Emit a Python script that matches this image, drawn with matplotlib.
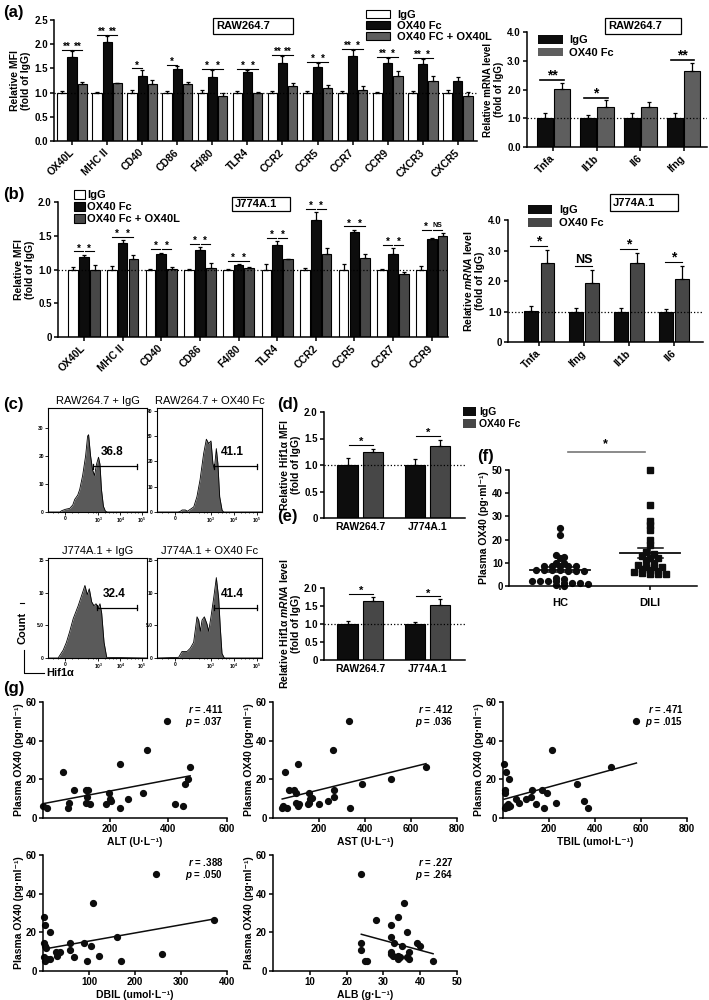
import numpy as np
import matplotlib
matplotlib.use('Agg')
import matplotlib.pyplot as plt
from matplotlib.patches import Patch, Rectangle
from matplotlib.lines import Line2D

plt.rcParams['font.family'] = ['Liberation Sans', 'DejaVu Sans']
plt.rcParams['font.weight'] = 'bold'
plt.rcParams['axes.labelweight'] = 'bold'
plt.rcParams['mathtext.fontset'] = 'custom'
plt.rcParams['mathtext.rm'] = 'Liberation Sans:bold'
plt.rcParams['mathtext.it'] = 'Liberation Sans:italic:bold'
plt.rcParams['mathtext.bf'] = 'Liberation Sans:bold'
plt.rcParams['axes.linewidth'] = 1.1

# ---------------- data ----------------
# (a) RAW264.7 surface markers (relative MFI)
a_genes = ['OX40L', 'MHC II', 'CD40', 'CD86', 'F4/80', 'TLR4', 'CCR2', 'CCR5', 'CCR7', 'CCR9', 'CXCR3', 'CXCR5']
a_igg = [1.0, 1.0, 1.0, 1.0, 1.0, 1.0, 1.0, 1.0, 1.0, 1.0, 1.0, 1.0]
a_igg_err = [0.03, 0.02, 0.05, 0.04, 0.05, 0.03, 0.04, 0.04, 0.03, 0.02, 0.03, 0.05]
a_fc = [1.73, 2.05, 1.35, 1.49, 1.32, 1.42, 1.62, 1.52, 1.76, 1.62, 1.60, 1.25]
a_fc_err = [0.12, 0.12, 0.12, 0.05, 0.14, 0.04, 0.13, 0.09, 0.12, 0.09, 0.09, 0.08]
a_fcl = [1.18, 1.19, 1.18, 1.17, 0.92, 1.0, 1.13, 1.10, 1.05, 1.35, 1.23, 0.94]
a_fcl_err = [0.03, 0.01, 0.09, 0.05, 0.07, 0.01, 0.07, 0.06, 0.08, 0.10, 0.11, 0.08]
a_sig_l = ['**', '**', '*', '*', '*', '*', '**', '*', '**', '**', '**', '']
a_sig_r = ['**', '**', '', '', '*', '*', '**', '*', '*', '*', '*', '']

# (a) RAW264.7 mRNA
a2_genes = ['Tnfa', 'Il1b', 'Il6', 'Ifng']
a2_igg = [1.02, 1.02, 1.02, 1.02]
a2_igg_err = [0.15, 0.1, 0.15, 0.15]
a2_fc = [2.02, 1.4, 1.4, 2.63]
a2_fc_err = [0.22, 0.22, 0.16, 0.3]
a2_sig = ['**', '*', '', '**']

# (b) J774A.1 surface markers
b_genes = ['OX40L', 'MHC II', 'CD40', 'CD86', 'F4/80', 'TLR4', 'CCR2', 'CCR5', 'CCR7', 'CCR9']
b_igg = [1.0, 1.0, 1.0, 1.0, 1.0, 1.0, 1.0, 1.0, 1.0, 1.0]
b_igg_err = [0.03, 0.05, 0.01, 0.01, 0.01, 0.08, 0.02, 0.08, 0.01, 0.05]
b_fc = [1.19, 1.40, 1.23, 1.29, 1.07, 1.37, 1.74, 1.56, 1.23, 1.45]
b_fc_err = [0.03, 0.03, 0.02, 0.04, 0.01, 0.05, 0.11, 0.03, 0.09, 0.01]
b_fcl = [1.0, 1.16, 1.01, 1.02, 1.02, 1.15, 1.23, 1.17, 0.93, 1.50]
b_fcl_err = [0.06, 0.05, 0.03, 0.07, 0.02, 0.01, 0.09, 0.06, 0.03, 0.04]
b_sig_l = ['*', '*', '*', '*', '*', '*', '*', '*', '*', '*']
b_sig_r = ['*', '*', '*', '*', '*', '*', '*', '*', '*', 'NS']

# (b) J774A.1 mRNA
b2_genes = ['Tnfa', 'Ifng', 'Il1b', 'Il6']
b2_igg = [1.02, 1.0, 1.0, 1.0]
b2_igg_err = [0.15, 0.1, 0.1, 0.08]
b2_fc = [2.6, 1.93, 2.58, 2.06]
b2_fc_err = [0.43, 0.43, 0.35, 0.43]
b2_sig = ['*', 'NS', '*', '*']

# (c) Hif1a flow histograms: (x in display units 0-100, count)
c_titles = ['RAW264.7 + IgG', 'RAW264.7 + OX40 Fc', 'J774A.1 + IgG', 'J774A.1 + OX40 Fc']
c1_x = [0, 12, 14, 18, 22, 25, 27, 30, 32, 35, 38, 40, 41, 43, 45, 47, 49, 51, 52.5, 54, 56, 58, 60, 100]
c1_y = [0, 0, 0.5, 1, 1.3, 2.5, 4.5, 6, 8, 13, 20, 27, 27.5, 20, 15, 13, 17, 19.5, 17, 8, 2, 0.3, 0, 0]
c2_x = [0, 20, 22, 24, 27, 29, 35, 38, 41, 44.4, 47, 49.2, 51.4, 53.3, 54.6, 56.5, 58, 59.7, 62, 63.5, 100]
c2_y = [0, 0, 0.2, 0.8, 0.8, 0.3, 2, 6, 12.7, 23, 28.7, 27, 28, 19, 17, 25, 19, 6, 0.7, 0, 0]
c3_x = [0, 10.2, 15.3, 18.6, 22, 25.4, 30.5, 34.9, 37.3, 39.7, 41.7, 44.1, 46.4, 48.5, 50.8, 52.5, 54.2, 56.6, 59.3, 100]
c3_y = [0, 0, 1.2, 2.4, 4.1, 6.0, 8.0, 10.0, 11.1, 9.7, 10.6, 8.6, 8.0, 8.3, 7.7, 8.3, 6.9, 2.4, 0.1, 0]
c4_x = [0, 20.6, 23.8, 28.6, 31.7, 34.9, 38.1, 39.7, 41.3, 42.9, 45.1, 47.6, 49.2, 51.4, 54.0, 56.5, 58.7, 60.3, 61.9, 64.1, 100]
c4_y = [0, 0.1, 1.0, 1.0, 1.5, 2.4, 6.3, 5.8, 4.1, 5.8, 6.3, 5.2, 4.1, 6.3, 9.2, 12.3, 9.2, 4.6, 0.7, 0, 0]
c_gate = ['36.8', '41.1', '32.4', '41.4']

# (d) Hif1a MFI, (e) Hif1a mRNA
de_cells = ['RAW264.7', 'J774A.1']
d_igg = [1.0, 1.0]
d_igg_err = [0.13, 0.12]
d_fc = [1.25, 1.35]
d_fc_err = [0.05, 0.12]
e_igg = [1.0, 1.0]
e_igg_err = [0.08, 0.06]
e_fc = [1.65, 1.52]
e_fc_err = [0.1, 0.17]

# (f) plasma OX40
f_hc = [25, 22, 13.5, 12.5, 12, 10, 10, 8.5, 8.5, 8.5, 8.5, 8.5, 7, 7, 7, 7, 6.5, 6.5, 6.5,
        3.5, 3, 2, 2, 2, 2, 1.5, 1.5, 1.5, 1, 0.5, 0]
f_dili = [50, 35, 28, 26.5, 24, 20, 17.5, 14.5, 14, 13, 12, 12, 11, 10, 9, 8, 8, 8, 7.5, 7,
          6.5, 6, 5.5, 5, 5, 5]

# (g) correlations
alt_x = [-28, -15, 40, 57, 61, 77, 118, 124, 122, 118, 131, 186, 197, 200, 202, 234, 234, 261, 312, 328, 394, 421, 449, 455, 466, 474]
alt_y = [6, 5, 24, 5, 8, 14.5, 14.5, 14.5, 11, 8, 7.5, 7, 13, 10, 9, 28, 5, 10, 13, 35, 50, 7, 6, 17.5, 20, 26.5]
ast_x = [40, 45, 50, 60, 70, 90, 100, 100, 110, 110, 115, 150, 155, 160, 170, 200, 240, 260, 265, 265, 330, 335, 385, 515, 665, 155]
ast_y = [5, 6, 24, 5, 14.5, 14.5, 13, 8, 28, 6, 7, 7.5, 13, 10, 10.5, 7, 9, 35, 14.5, 11, 50, 5, 17.5, 20, 26.5, 8]
tbil_x = [5, 10, 10, 15, 15, 10, 20, 25, 30, 55, 70, 100, 120, 125, 145, 170, 180, 190, 215, 230, 320, 350, 370, 470, 580, 20]
tbil_y = [28, 14.5, 13, 24, 6, 5, 7, 20, 6, 10, 8, 10, 11, 14.5, 7.5, 14.5, 5, 13, 35, 8, 17.5, 9, 5, 26.5, 50, 5.5]
dbil_x = [2, 3, 4, 5, 3, 4, 8, 15, 15, 28, 30, 38, 58, 58, 68, 90, 95, 105, 108, 122, 160, 170, 245, 258, 372, 6]
dbil_y = [28, 14.5, 13, 24, 7, 5, 6, 20, 6, 10, 8, 10, 11, 14.5, 7.5, 14.5, 5, 13, 35, 8, 17.5, 5, 50, 9, 26.5, 12]
alb_x = [24, 24, 24, 25, 25.5, 28, 32, 32, 32, 32, 32.5, 33, 34, 34, 34, 34, 35, 35.5, 36.5, 36.5, 37, 37, 39, 40, 43.5, 34.5]
alb_y = [50, 14.5, 11, 5, 5, 26.5, 24, 17.5, 10, 9, 8, 14.5, 28, 8, 7, 6, 13, 35, 20, 7, 6, 10, 14.5, 13, 5, 7.5]
g_stats = [('.411', '.037'), ('.412', '.036'), ('.471', '.015'), ('.388', '.050'), ('.227', '.264')]

BLACK = '#0d0d0d'
GRAY_A = '#5e5e5e'
GRAY = '#474747'

W, H = 709, 1000
fig = plt.figure(figsize=(W / 100, H / 100), dpi=100)


def add_ax(l, t, r, b, fs=7):
    ax = fig.add_axes([l / W, 1 - b / H, (r - l) / W, (b - t) / H])
    ax.spines[['top', 'right']].set_visible(False)
    ax.tick_params(labelsize=fs, width=1.1, length=3, pad=1.5)
    return ax


def fx(x):
    return x / W


def fy(y):
    return 1 - y / H


def panel_label(x, y, s):
    fig.text(fx(x), fy(y), s, fontsize=12, fontweight='bold', va='center', ha='left')


def label_box(l, t, r, b, s):
    fig.add_artist(Rectangle((fx(l), fy(b)), (r - l) / W, (b - t) / H, transform=fig.transFigure,
                             fill=False, edgecolor='black', linewidth=0.9))
    fig.text(fx(l + 3), fy((t + b) / 2), s, fontsize=8, va='center', ha='left')


def bars(ax, vals, errs, offsets, width, colors):
    x = np.arange(len(vals[0]))
    for v, e, off, c in zip(vals, errs, offsets, colors):
        ax.bar(x + off, v, width, color=c, edgecolor='black', linewidth=0.8,
               yerr=[np.zeros(len(e)), e], capsize=1.6,
               error_kw=dict(elinewidth=0.9, capthick=0.9, ecolor='black'))
    ax.axhline(1.0, color='black', ls=':', lw=0.9, zorder=5)
    return x


def sig(ax, x1, x2, y, txt, fs=7, lw=0.8):
    if not txt:
        return
    ax.plot([x1, x2], [y, y], color='black', lw=lw, clip_on=False)
    ax.annotate(txt, ((x1 + x2) / 2, y), xytext=(0, -1.5 if '*' in txt else 0.5),
                textcoords='offset points', ha='center', va='bottom', fontsize=fs,
                annotation_clip=False)


def rot_ticks(ax, x, labels, fs=7.5):
    ax.set_xticks(x)
    ax.set_xticklabels(labels, rotation=45, ha='right', va='center', rotation_mode='anchor', fontsize=fs)
    ax.tick_params(axis='x', pad=4)


# ---------------- (a) left ----------------
ax = add_ax(54, 20, 477, 141)
x = bars(ax, [a_igg, a_fc, a_fcl], [a_igg_err, a_fc_err, a_fcl_err], [-0.29, 0, 0.29], 0.27,
         ['white', BLACK, GRAY_A])
ax.set_xlim(-0.52, 11.55)
ax.set_ylim(0, 2.5)
ax.set_yticks([0, 0.5, 1.0, 1.5, 2.0, 2.5])
ax.set_yticklabels(['0.0', '0.5', '1.0', '1.5', '2.0', '2.5'])
rot_ticks(ax, x, a_genes)
ax.set_ylabel('Relative MFI\n(fold of IgG)', fontsize=7.5, labelpad=2)
for i in range(len(x)):
    top = max(a_igg[i] + a_igg_err[i], a_fc[i] + a_fc_err[i], a_fcl[i] + a_fcl_err[i]) + 0.03
    sig(ax, x[i] - 0.29, x[i], top, a_sig_l[i])
    sig(ax, x[i], x[i] + 0.29, top, a_sig_r[i])
label_box(213, 18, 293, 34, 'RAW264.7')
fig.legend(handles=[Patch(facecolor=c, edgecolor='black', lw=0.8) for c in ['white', BLACK, GRAY_A]],
           labels=['IgG', 'OX40 Fc', 'OX40 FC + OX40L'], loc='upper left',
           bbox_to_anchor=(fx(358), fy(2)), frameon=False, fontsize=8, handlelength=2.2,
           handleheight=0.7, labelspacing=0.1, handletextpad=0.6, borderpad=0.2)
panel_label(3, 12, '(a)')

# ---------------- (a) right ----------------
ax = add_ax(527, 32, 707, 147)
x = bars(ax, [a2_igg, a2_fc], [a2_igg_err, a2_fc_err], [-0.2, 0.2], 0.37, [BLACK, GRAY_A])
ax.set_xlim(-0.61, 3.54)
ax.set_ylim(0, 4)
ax.set_yticks([0, 1, 2, 3, 4])
ax.set_yticklabels(['0.0', '1.0', '2.0', '3.0', '4.0'])
rot_ticks(ax, x, a2_genes)
ax.set_ylabel('Relative mRNA level\n(fold of IgG)', fontsize=7, labelpad=2)
for i in range(len(x)):
    top = a2_fc[i] + a2_fc_err[i] + 0.08
    sig(ax, x[i] - 0.3, x[i] + 0.25, top, a2_sig[i], fs=10, lw=1.2)
label_box(605, 18, 681, 34, 'RAW264.7')
ax.legend(handles=[Patch(facecolor=c, edgecolor='none') for c in [BLACK, GRAY_A]],
          labels=['IgG', 'OX40 Fc'], loc='upper left', bbox_to_anchor=(0.02, 1.04),
          frameon=False, fontsize=8, handlelength=2.2, handleheight=0.8, labelspacing=0.2,
          handletextpad=0.6, borderpad=0.2)

# ---------------- (b) left ----------------
ax = add_ax(58, 202, 448, 337)
x = bars(ax, [b_igg, b_fc, b_fcl], [b_igg_err, b_fc_err, b_fcl_err], [-0.28, 0, 0.28], 0.25,
         ['white', BLACK, GRAY])
ax.set_xlim(-0.67, 9.42)
ax.set_ylim(0, 2.0)
ax.set_yticks([0, 0.5, 1.0, 1.5, 2.0])
ax.set_yticklabels(['0', '0.5', '1.0', '1.5', '2.0'])
rot_ticks(ax, x, b_genes)
ax.set_ylabel('Relative MFI\n(fold of IgG)', fontsize=7.5, labelpad=2)
for i in range(len(x)):
    top = max(b_igg[i] + b_igg_err[i], b_fc[i] + b_fc_err[i], b_fcl[i] + b_fcl_err[i]) + 0.05
    sig(ax, x[i] - 0.26, x[i] - 0.02, top, b_sig_l[i], fs=7)
    sig(ax, x[i] + 0.02, x[i] + 0.26, top, b_sig_r[i], fs=7 if b_sig_r[i] != 'NS' else 5)
label_box(232, 197, 290, 211, 'J774A.1')
fig.legend(handles=[Patch(facecolor=c, edgecolor='black', lw=0.8) for c in ['white', BLACK, GRAY]],
           labels=['IgG', 'OX40 Fc', 'OX40 Fc + OX40L'], loc='upper left',
           bbox_to_anchor=(fx(66), fy(182)), frameon=False, fontsize=8, handlelength=1.0,
           handleheight=0.9, labelspacing=0.15, handletextpad=0.2, borderpad=0.2)
panel_label(3, 194, '(b)')

# ---------------- (b) right ----------------
ax = add_ax(508, 220, 703, 342)
x = bars(ax, [b2_igg, b2_fc], [b2_igg_err, b2_fc_err], [-0.18, 0.18], 0.31, [BLACK, GRAY])
ax.set_xlim(-0.70, 3.65)
ax.set_ylim(0, 4)
ax.set_yticks([0, 1, 2, 3, 4])
ax.set_yticklabels(['0', '1.0', '2.0', '3.0', '4.0'])
rot_ticks(ax, x, b2_genes)
ax.set_ylabel('Relative $\\mathit{mRNA}$ level\n(fold of IgG)', fontsize=7.5, labelpad=2)
for i in range(len(x)):
    top = b2_fc[i] + b2_fc_err[i] + 0.12
    sig(ax, x[i] - 0.2, x[i] + 0.18, top, b2_sig[i], fs=10 if b2_sig[i] == '*' else 9)
label_box(610, 194, 678, 211, 'J774A.1')
fig.legend(handles=[Patch(facecolor=c, edgecolor='none') for c in [BLACK, GRAY]],
           labels=['IgG', 'OX40 Fc'], loc='upper left', bbox_to_anchor=(fx(520), fy(197)),
           frameon=False, fontsize=8, handlelength=2.2, handleheight=0.9, labelspacing=0.25,
           handletextpad=0.6, borderpad=0.2)

# ---------------- (c) histograms ----------------
c_boxes = [(48, 408, 147, 512), (157, 408, 262, 512), (48, 558, 147, 658), (157, 558, 262, 658)]
c_curves = [(c1_x, c1_y), (c2_x, c2_y), (c3_x, c3_y), (c4_x, c4_y)]
c_ylims = [(37, [0, 10, 20, 30], ['0', '10', '20', '30']),
           (41, [0, 10, 20, 30, 40], ['0', '10', '20', '30', '40']),
           (15.3, [0, 5, 10, 15], ['0', '5.0', '10', '15']),
           (15.3, [0, 5, 10, 15], ['0', '5.0', '10', '15'])]
gate_y = [16.2, 18, 7.7, 7.7]
gate_x = [(45, 90), (54, 95), (49, 90), (54, 95)]
for k, (l, t, r, b) in enumerate(c_boxes):
    ax = fig.add_axes([fx(l), fy(b), (r - l) / W, (b - t) / H])
    for s in ax.spines.values():
        s.set_linewidth(0.8)
    cx, cy = c_curves[k]
    ax.fill_between(cx, cy, color='#5a5a5a', lw=0)
    ax.plot(cx, cy, color='black', lw=0.6)
    ymax, yt, ytl = c_ylims[k]
    ax.set_xlim(0, 100)
    ax.set_ylim(0, ymax)
    ax.set_yticks(yt)
    ax.set_yticklabels(ytl)
    ax.set_xticks([17, 51, 73, 95])
    ax.set_xticklabels(['0', '$10^3$', '$10^4$', '$10^5$'])
    ax.set_xticks([5, 10, 24, 30, 40, 45, 48, 58, 62, 66, 69, 80, 84, 88, 91], minor=True)
    ax.tick_params(labelsize=3.5, length=2, width=0.6, pad=1)
    ax.tick_params(which='minor', length=1, width=0.5)
    gx0, gx1 = gate_x[k]
    ax.plot([gx0, gx1], [gate_y[k]] * 2, color='black', lw=0.9)
    ax.plot([gx0, gx0], [gate_y[k] - ymax * 0.025, gate_y[k] + ymax * 0.025], color='black', lw=0.9)
    ax.plot([gx1, gx1], [gate_y[k] - ymax * 0.025, gate_y[k] + ymax * 0.025], color='black', lw=0.9)
    ax.text((gx0 + gx1) / 2 - 3, gate_y[k] + ymax * 0.08, c_gate[k], fontsize=8.5, ha='center', va='bottom')
    ax.set_title(c_titles[k], fontsize=8, pad=3)
panel_label(3, 404, '(c)')
fig.text(fx(23), fy(628), 'Count', rotation=90, fontsize=8, ha='center', va='center')
fig.add_artist(Line2D([fx(24), fx(24), fx(44)], [fy(650), fy(673), fy(673)], transform=fig.transFigure,
                      color='black', lw=0.8))
fig.add_artist(Line2D([fx(20), fx(24)], [fy(603), fy(603)], transform=fig.transFigure, color='black', lw=0.8))
fig.text(fx(46), fy(673), 'Hif1α', fontsize=8, ha='left', va='center')

# ---------------- (d) and (e) ----------------
for (t, b, ig, ige, fc, fce, ylab, lab, ly) in [
        (412, 518, d_igg, d_igg_err, d_fc, d_fc_err, 'Relative Hif1α MFI\n(fold of IgG)', '(d)', 404),
        (588, 660, e_igg, e_igg_err, e_fc, e_fc_err, 'Relative Hif1α $\\mathit{mRNA}$ level\n(fold of IgG)', '(e)', 516)]:
    ax = add_ax(324, t, 465, b)
    x = bars(ax, [ig, fc], [ige, fce], [-0.19, 0.19], 0.30, [BLACK, GRAY])
    ax.set_xlim(-0.54, 1.56)
    ax.set_ylim(0, 2.0)
    ax.set_yticks([0, 0.5, 1.0, 1.5, 2.0])
    ax.set_yticklabels(['0', '0.5', '1.0', '1.5', '2.0'])
    ax.set_xticks(x)
    ax.set_xticklabels(de_cells, fontsize=7.5)
    ax.tick_params(axis='x', length=0, pad=3)
    ax.set_ylabel(ylab, fontsize=7.5, labelpad=2)
    for i in range(len(x)):
        sig(ax, x[i] - 0.17, x[i] + 0.19, fc[i] + fce[i] + 0.08, '*', fs=8)
    panel_label(277, ly, lab)
fig.legend(handles=[Patch(facecolor=c, edgecolor='none') for c in [BLACK, GRAY]],
           labels=['IgG', 'OX40 Fc'], loc='upper left', bbox_to_anchor=(fx(456), fy(400)),
           frameon=False, fontsize=7.5, handlelength=1.2, handleheight=0.9, labelspacing=0.2,
           handletextpad=0.3, borderpad=0.2)

# ---------------- (f) ----------------
ax = add_ax(509, 470, 697, 586)
ax.set_xlim(-0.567, 1.52)
ax.set_ylim(0, 50)
ax.set_yticks([0, 10, 20, 30, 40, 50])
ax.set_xticks([0, 1])
ax.set_xticklabels(['HC', 'DILI'], fontsize=8)
ax.tick_params(axis='x', pad=6)
ax.set_ylabel('Plasma OX40 (pg·ml⁻¹)', fontsize=7.5, labelpad=2)


def row_spread(vals, xpx_per_unit, step_px=8.0, tol=1.2):
    # groups close values into rows (GraphPad style) and spreads each row sideways
    vals = np.asarray(vals, float)
    order = np.argsort(-vals)
    offs = np.zeros(len(vals))
    groups = []
    for idx in order:
        if groups and vals[groups[-1][0]] - vals[idx] <= tol:
            groups[-1].append(idx)
        else:
            groups.append([idx])
    for g in groups:
        n = len(g)
        for j, idx in enumerate(g):
            offs[idx] = (j - (n - 1) / 2) * step_px / xpx_per_unit
    return offs


for i, (vals, mk) in enumerate([(f_hc, 'o'), (f_dili, 's')]):
    vals = np.array(vals, float)
    offs = row_spread(vals, 90)
    ax.plot(i + offs, vals, mk, color=BLACK, ms=4.2, ls='none', clip_on=False)
    m = vals.mean()
    se = vals.std(ddof=1) / np.sqrt(len(vals))
    ax.plot([i - 0.33, i + 0.33], [m, m], color=BLACK, lw=1.3)
    ax.plot([i - 0.14, i + 0.14], [m + se, m + se], color=BLACK, lw=1.1)
    ax.plot([i - 0.14, i + 0.14], [m - se, m - se], color=BLACK, lw=1.1)
    ax.plot([i, i], [m - se, m + se], color=BLACK, lw=1.1)
ax.plot([0.09, 0.94], [57.8, 57.8], color='#777777', lw=1.2, clip_on=False)
ax.text(0.5, 58.5, '*', fontsize=9, ha='center', va='bottom', clip_on=False)
panel_label(477, 456, '(f)')

# ---------------- (g) ----------------
g_boxes = [(43, 702, 227, 818), (273, 702, 457, 818), (503, 702, 687, 818),
           (43, 855, 227, 971), (273, 855, 457, 971)]
g_data = [(alt_x, alt_y), (ast_x, ast_y), (tbil_x, tbil_y), (dbil_x, dbil_y), (alb_x, alb_y)]
g_xlab = ['ALT (U·L⁻¹)', 'AST (U·L⁻¹)', 'TBIL (umol·L⁻¹)', 'DBIL (umol·L⁻¹)', 'ALB (g·L⁻¹)']
g_xlim = [(-29, 600), (0, 800), (0, 800), (0, 400), (0, 50)]
g_xticks = [[200, 400, 600], [200, 400, 600, 800], [200, 400, 600, 800],
            [100, 200, 300, 400], [10, 20, 30, 40, 50]]
for k, (l, t, r, b) in enumerate(g_boxes):
    ax = add_ax(l, t, r, b, fs=7)
    gx = np.array(g_data[k][0], float)
    gy = np.array(g_data[k][1], float)
    ax.plot(gx, gy, 'o', color=BLACK, ms=4.2, clip_on=False)
    slope, icpt = np.polyfit(gx, gy, 1)
    xs = np.array([gx.min(), gx.max()])
    ax.plot(xs, slope * xs + icpt, color=BLACK, lw=1.1)
    ax.set_xlim(*g_xlim[k])
    ax.set_ylim(0, 60)
    ax.set_yticks([0, 20, 40, 60])
    ax.set_xticks(g_xticks[k])
    ax.set_xlabel(g_xlab[k], fontsize=7.5, labelpad=2)
    ax.set_ylabel('Plasma OX40 (pg·ml⁻¹)', fontsize=7.5, labelpad=1)
    rr, pp = g_stats[k]
    ax.text(0.98, 0.99, '$r$ = ' + rr + '\n$p$ = ' + pp, transform=ax.transAxes,
            ha='right', va='top', fontsize=7, linespacing=1.0)
panel_label(3, 688, '(g)')

fig.savefig('out.png', dpi=100)
